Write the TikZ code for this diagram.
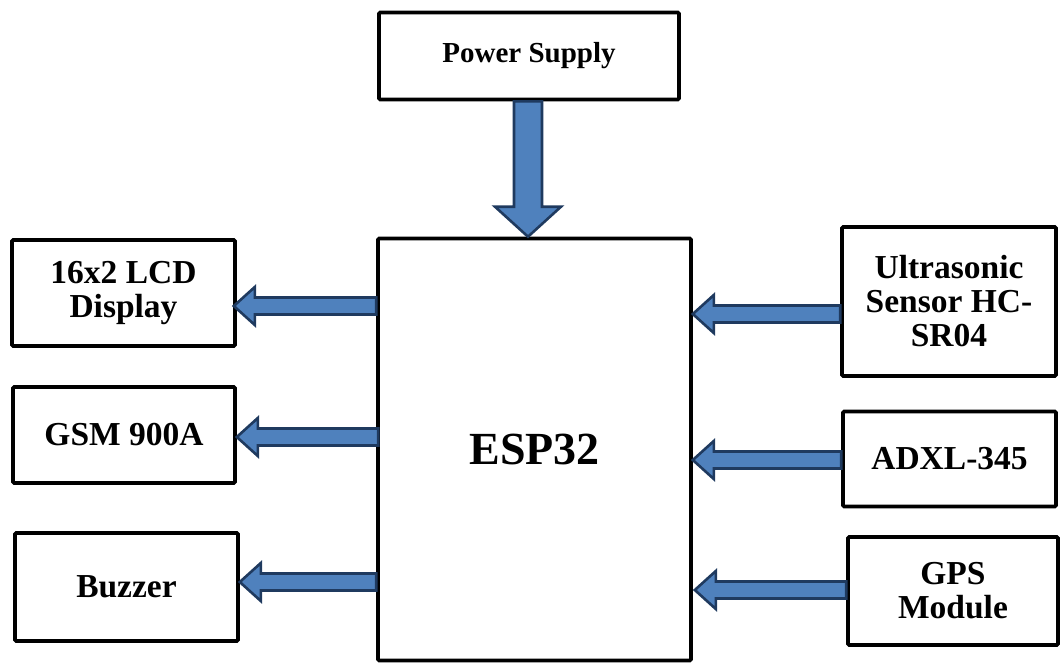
\documentclass[tikz,border=0pt]{standalone}
\usepackage{fontspec}
\setmainfont{Liberation Serif}
\usetikzlibrary{calc}
\definecolor{arrowfill}{HTML}{4F81BD}
\definecolor{arrowline}{HTML}{1F3A5F}
\tikzset{
  blk/.style={draw=black, line width=3.6pt, fill=white, rounded corners=1.2pt, inner sep=0pt, align=center, font=\bfseries\fontsize{33.5}{34}\selectfont},
  barrow/.style={fill=arrowfill, draw=arrowline, line width=2.6pt, line join=miter}
}
% horizontal block arrow pointing left: #1 tail, #2 tip
\newcommand{\leftblock}[2]{%
  \path[barrow] ($(#1)+(0,-8.5)$) -- ($(#2)+(21,-8.5)$) -- ($(#2)+(21,-19)$) -- (#2) -- ($(#2)+(21,19)$) -- ($(#2)+(21,8.5)$) -- ($(#1)+(0,8.5)$) -- cycle;}
% vertical block arrow pointing down: #1 tail, #2 tip
\newcommand{\downblock}[2]{%
  \path[barrow] ($(#1)+(-14,0)$) -- ($(#2)+(-14,-30)$) -- ($(#2)+(-33,-30)$) -- (#2) -- ($(#2)+(33,-30)$) -- ($(#2)+(14,-30)$) -- ($(#1)+(14,0)$) -- cycle;}
\begin{document}
\begin{tikzpicture}[x=1pt,y=-1pt]
\useasboundingbox (0,0) rectangle (1060,662);
% boxes
\node[blk, minimum width=300, minimum height=87, font=\bfseries\fontsize{29}{30}\selectfont] (ps) at (529,56) {Power Supply};
\node[blk, minimum width=313, minimum height=422, font=\bfseries\fontsize{46}{48}\selectfont] (esp) at (534.5,449.5) {ESP32};
\node[blk, minimum width=223, minimum height=106] (lcd) at (123.5,293) {16x2 LCD\\Display};
\node[blk, minimum width=222, minimum height=96] (gsm) at (124,435) {GSM 900A};
\node[blk, minimum width=223, minimum height=108] (buz) at (126.5,587) {Buzzer};
\node[blk, minimum width=214, minimum height=149] (us) at (949,301.5) {Ultrasonic\\Sensor HC-\\SR04};
\node[blk, minimum width=213, minimum height=95] (adxl) at (949.5,459) {ADXL-345};
\node[blk, minimum width=210, minimum height=108] (gps) at (953,591) {GPS\\Module};
% arrow anchor coordinates
\coordinate (y1) at (0,306);
\coordinate (y2) at (0,437);
\coordinate (y3) at (0,582);
\coordinate (y4) at (0,314);
\coordinate (y5) at (0,460);
\coordinate (y6) at (0,590);
\coordinate (a1t) at (esp.west |- y1); \coordinate (a1h) at ([xshift=-3pt]lcd.east |- y1);
\coordinate (a2t) at ([xshift=2pt]esp.west |- y2); \coordinate (a2h) at (gsm.east |- y2);
\coordinate (a3t) at (esp.west |- y3); \coordinate (a3h) at (buz.east |- y3);
\coordinate (a4t) at (us.west |- y4); \coordinate (a4h) at (esp.east |- y4);
\coordinate (a5t) at (adxl.west |- y5); \coordinate (a5h) at (esp.east |- y5);
\coordinate (a6t) at (gps.west |- y6); \coordinate (a6h) at ([xshift=2pt]esp.east |- y6);
\coordinate (p1t) at ([xshift=-1pt]ps.south); \coordinate (p1h) at ([xshift=-1pt]ps.south |- esp.north);
% arrows
\downblock{p1t}{p1h}
\leftblock{a1t}{a1h}
\leftblock{a2t}{a2h}
\leftblock{a3t}{a3h}
\leftblock{a4t}{a4h}
\leftblock{a5t}{a5h}
\leftblock{a6t}{a6h}
\end{tikzpicture}
\end{document}
